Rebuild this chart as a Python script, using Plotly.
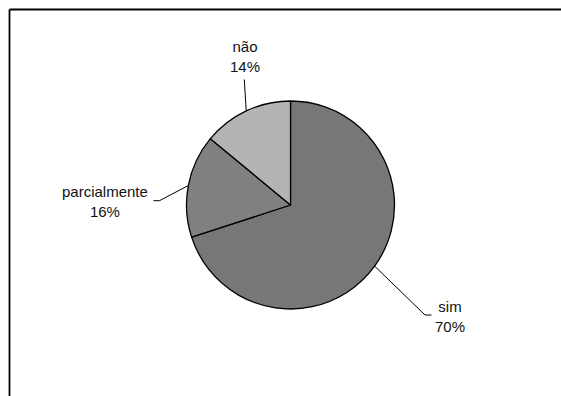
import math
import plotly.graph_objects as go

# Survey answers and their shares (%)
categories = ["sim", "parcialmente", "não"]
shares = [70, 16, 14]
slice_colors = ["#777777", "#808080", "#b4b4b4"]

W, H = 561, 396
CX, CY, R = 290.5, 205.0, 104.0  # pie centre and radius in pixels

# Label block centres and leader-line knee/end points (pixels)
label_layout = {
    "sim": {"text": (450, 316), "knee": (425, 315), "end": (431.5, 315)},
    "parcialmente": {"text": (105, 201), "knee": (159.5, 200.7), "end": (153.5, 200.7)},
    "não": {"text": (244.5, 56), "knee": (244.3, 79.5), "end": (244.3, 79.5)},
}


def px(x, y):
    return x / W, 1 - y / H


fig = go.Figure(
    go.Pie(
        labels=categories,
        values=shares,
        sort=False,
        direction="clockwise",
        rotation=0,
        textinfo="none",
        hoverinfo="label+percent",
        marker=dict(colors=slice_colors, line=dict(color="#000000", width=1.3)),
        domain=dict(
            x=[(CX - R) / W, (CX + R) / W],
            y=[1 - (CY + R) / H, 1 - (CY - R) / H],
        ),
        showlegend=False,
    )
)

shapes = []
annotations = []
total = sum(shares)
start = 0.0
for name, val in zip(categories, shares):
    mid = start + val / total * 360 / 2
    start += val / total * 360
    a = math.radians(mid)
    ex, ey = CX + R * math.sin(a), CY - R * math.cos(a)
    lay = label_layout[name]
    p0 = px(ex, ey)
    p1 = px(*lay["knee"])
    p2 = px(*lay["end"])
    shapes.append(dict(
        type="path", xref="paper", yref="paper",
        path=f"M {p0[0]},{p0[1]} L {p1[0]},{p1[1]} L {p2[0]},{p2[1]}",
        line=dict(color="#000000", width=1),
    ))
    tx, ty = px(*lay["text"])
    annotations.append(dict(
        x=tx, y=ty, xref="paper", yref="paper",
        text=f"{name}<br>{val}%", showarrow=False,
        xanchor="center", yanchor="middle", align="center",
        font=dict(family="Liberation Sans, Arial, sans-serif", size=15, color="#111111"),
    ))

# Chart frame (top and left edges)
x0, y0 = px(9.5, 9.5)
shapes.append(dict(type="line", xref="paper", yref="paper", x0=x0, y0=y0, x1=1.01, y1=y0,
                   line=dict(color="#000000", width=1.8)))
shapes.append(dict(type="line", xref="paper", yref="paper", x0=x0, y0=y0, x1=x0, y1=-0.01,
                   line=dict(color="#000000", width=1.8)))

fig.update_layout(
    width=W, height=H,
    margin=dict(l=0, r=0, t=0, b=0),
    paper_bgcolor="#ffffff",
    plot_bgcolor="#ffffff",
    shapes=shapes,
    annotations=annotations,
)

fig.write_html("out.html")
